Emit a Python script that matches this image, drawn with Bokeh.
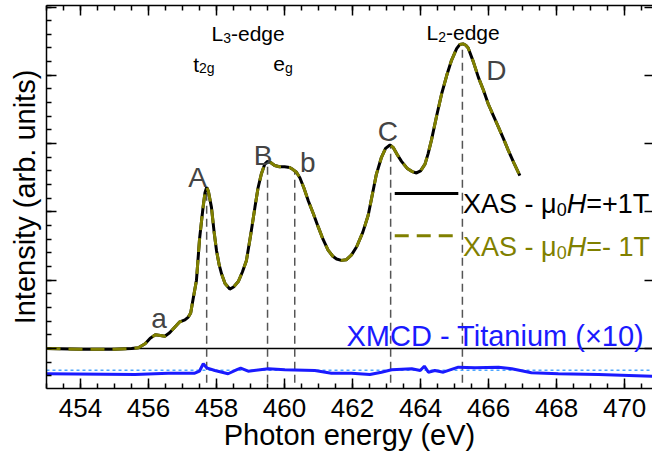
import numpy as np
from bokeh.plotting import figure
from bokeh.models import (LinearAxis, SingleIntervalTicker, Span, Label, Range1d, Title,
                          CustomJSTickFormatter)
from bokeh.embed import file_html
from bokeh.resources import INLINE

# ---------------- data ----------------
energy_xas = [453.0, 454.0, 455.0, 455.5, 455.7, 455.9, 456.05, 456.2, 456.35, 456.48,
              456.62, 456.77, 456.92, 457.07, 457.17, 457.24, 457.31, 457.41, 457.5, 457.6,
              457.66, 457.71, 457.76, 457.85, 457.93, 458.0, 458.08, 458.15, 458.25, 458.39,
              458.5, 458.64, 458.76, 458.88, 459.0, 459.13, 459.22, 459.32, 459.42, 459.5,
              459.6, 459.71, 459.85, 460.0, 460.15, 460.25, 460.35, 460.45, 460.57, 460.7,
              460.85, 460.99, 461.13, 461.28, 461.42, 461.53, 461.67, 461.82, 461.97, 462.12,
              462.3, 462.46, 462.56, 462.7, 462.85, 462.97, 463.1, 463.2, 463.3, 463.44,
              463.6, 463.75, 463.88, 464.0, 464.13, 464.22, 464.32, 464.47, 464.62, 464.77,
              464.91, 465.06, 465.15, 465.25, 465.33, 465.4, 465.55, 465.7, 465.85, 465.99,
              466.14, 466.29, 466.44, 466.58, 466.75, 466.92]
xas_plus = [0.0, -0.01, -0.01, 0.0, 0.01, 0.07, 0.15, 0.2, 0.19, 0.18,
            0.23, 0.31, 0.39, 0.42, 0.46, 0.52, 0.72, 1.0, 1.6, 2.05,
            2.28, 2.36, 2.3, 2.07, 1.7, 1.43, 1.22, 1.09, 0.95, 0.87,
            0.9, 0.98, 1.12, 1.29, 1.65, 2.07, 2.35, 2.56, 2.7, 2.74,
            2.72, 2.68, 2.66, 2.66, 2.65, 2.62, 2.58, 2.5, 2.35, 2.16,
            1.97, 1.78, 1.6, 1.44, 1.35, 1.31, 1.29, 1.3, 1.37, 1.49,
            1.7, 1.95, 2.2, 2.55, 2.8, 2.93, 2.98, 2.94, 2.85, 2.74,
            2.64, 2.59, 2.57, 2.6, 2.7, 2.85, 3.05, 3.4, 3.73, 4.0,
            4.22, 4.39, 4.45, 4.46, 4.44, 4.4, 4.2, 3.97, 3.78, 3.58,
            3.41, 3.24, 3.07, 2.9, 2.71, 2.53]
xas_minus = [0.0, -0.01, -0.01, 0.0, 0.01, 0.07, 0.15, 0.2, 0.19, 0.18,
             0.23, 0.31, 0.39, 0.42, 0.46, 0.52, 0.72, 1.0, 1.6, 2.05,
             2.28, 2.36, 2.3, 2.07, 1.7, 1.43, 1.22, 1.09, 0.95, 0.87,
             0.9, 0.98, 1.12, 1.29, 1.65, 2.07, 2.35, 2.56, 2.7, 2.74,
             2.72, 2.68, 2.66, 2.66, 2.65, 2.62, 2.58, 2.5, 2.35, 2.16,
             1.97, 1.78, 1.6, 1.44, 1.35, 1.31, 1.29, 1.3, 1.37, 1.49,
             1.7, 1.95, 2.2, 2.55, 2.8, 2.93, 2.98, 2.94, 2.85, 2.74,
             2.64, 2.59, 2.57, 2.6, 2.7, 2.85, 3.05, 3.4, 3.73, 4.0,
             4.22, 4.39, 4.45, 4.46, 4.44, 4.4, 4.2, 3.97, 3.78, 3.58,
             3.41, 3.24, 3.07, 2.9, 2.71, 2.53]

energy_xmcd = [453.0, 455.6, 456.58, 457.36, 457.5, 457.61, 457.71, 457.95, 458.34, 458.6,
               458.71, 458.93, 459.52, 460.01, 460.89, 461.38, 461.97, 462.51, 462.85, 463.15,
               463.74, 463.99, 464.11, 464.23, 464.42, 464.67, 465.11, 465.6, 466.29, 466.68,
               467.26, 468.05, 469.23, 470.85]
xmcd = [-0.37, -0.381, -0.362, -0.362, -0.33, -0.224, -0.283, -0.322, -0.37, -0.31,
        -0.288, -0.332, -0.297, -0.312, -0.322, -0.362, -0.362, -0.381, -0.347, -0.312,
        -0.297, -0.322, -0.259, -0.347, -0.322, -0.347, -0.274, -0.283, -0.274, -0.297,
        -0.356, -0.37, -0.381, -0.406]
xmcd_zero = -0.32

peak_energies = [457.71, 459.50, 460.30, 463.12, 465.23]
peak_names = ["A", "B", "b", "C", "D", "a"]
peak_label_x = [457.44, 459.37, 460.68, 463.04, 466.23, 456.31]
peak_label_y = [2.50, 2.83, 2.72, 3.17, 4.07, 0.434]

x_tick_interval = 2
y_tick_interval = 1

# ---------------- styling ----------------
FONT = "Liberation Sans"
OLIVE = "#808000"
BLUE = "#1a1aff"
GRAY = "#444444"

W = {'X': 667, 'A': 667, 'S': 667, ' ': 278, '-': 333, 'μ': 576, '0': 556, 'H': 722,
     '=': 584, '+': 584, '1': 556, 'T': 611, 'L': 556, '3': 556, '2': 556, 'e': 556,
     'd': 556, 'g': 556, 't': 278}


def text_width(s, size):
    return sum(W.get(c, 556) for c in s) * size / 1000.0


p = figure(width=652, height=456, x_range=Range1d(453, 470.82), y_range=Range1d(-0.586, 5.022),
           x_axis_type=None, y_axis_type=None, output_backend="svg", toolbar_location=None,
           min_border_left=45, min_border_right=0, min_border_top=5, min_border_bottom=68)
p.outline_line_color = None
p.background_fill_color = "white"
p.border_fill_color = "white"

blank = CustomJSTickFormatter(code="return ''")


def make_axis(ticker, labels=True, tick_in=10, minor_in=5):
    ax = LinearAxis(ticker=ticker, major_tick_in=tick_in, major_tick_out=0,
                    minor_tick_in=minor_in, minor_tick_out=0, axis_line_width=1.5,
                    major_tick_line_width=1.5, minor_tick_line_width=1.5,
                    axis_line_color="black")
    if labels:
        ax.major_label_text_font = FONT
        ax.major_label_text_font_size = "26px"
        ax.major_label_text_color = "black"
        ax.major_label_standoff = 10
    else:
        ax.formatter = blank
        ax.major_label_standoff = 0
        ax.major_label_text_font_size = "1px"
    return ax


ax_b = make_axis(SingleIntervalTicker(interval=x_tick_interval, num_minor_ticks=4))
ax_b.axis_label = "Photon energy (eV)"
ax_b.axis_label_text_font = FONT
ax_b.axis_label_text_font_size = "29px"
ax_b.axis_label_text_font_style = "normal"
ax_b.axis_label_text_color = "black"
ax_b.axis_label_standoff = -1
p.add_layout(ax_b, "below")
p.add_layout(make_axis(SingleIntervalTicker(interval=x_tick_interval, num_minor_ticks=4),
                       labels=False), "above")
p.add_layout(make_axis(SingleIntervalTicker(interval=y_tick_interval, num_minor_ticks=5),
                       labels=False), "left")
ax_r = make_axis(SingleIntervalTicker(interval=y_tick_interval, num_minor_ticks=0),
                 labels=False, tick_in=8, minor_in=0)
ax_r.axis_line_color = None
p.add_layout(ax_r, "right")

# y title
p.add_layout(Title(text="Intensity (arb. units)", align="center", offset=40,
                   text_font=FONT, text_font_size="29px", text_font_style="normal",
                   text_color="black", standoff=12), "left")

# zero lines
p.add_layout(Span(location=0, dimension="width", line_color="black", line_width=1.3,
                  level="underlay"))
p.add_layout(Span(location=xmcd_zero, dimension="width", line_color="#4da6ff", line_width=1.5,
                  line_dash="3 3", level="underlay"))

# vertical dashed guide lines
tops = np.interp(peak_energies, energy_xas, xas_plus)
p.segment(x0=peak_energies, y0=[-0.5] * len(peak_energies), x1=peak_energies, y1=tops,
          line_color="#555555", line_width=1.5, line_dash="8 5")

# curves
p.line(energy_xas, xas_plus, line_color="black", line_width=3)
p.line(energy_xas, xas_minus, line_color=OLIVE, line_width=3, line_dash="14 8")
p.line(energy_xmcd, xmcd, line_color=BLUE, line_width=3)

# peak letters
for name, lx, ly in zip(peak_names, peak_label_x, peak_label_y):
    p.add_layout(Label(x=lx, y=ly, text=name, text_font=FONT, text_font_size="28px",
                       text_color=GRAY, text_align="center", text_baseline="alphabetic"))


def add_pieces(x, y, pieces, color, x_offset=0):
    off = x_offset
    for txt, size, style, dy in pieces:
        p.add_layout(Label(x=x, y=y, x_offset=off, y_offset=dy, text=txt, text_font=FONT,
                           text_font_size=f"{size}px", text_font_style=style, text_color=color,
                           text_align="left", text_baseline="alphabetic"))
        off += text_width(txt, size)


# edge annotations
add_pieces(457.853, 4.608, [("L", 21, "normal", 0), ("3", 14, "normal", -4),
                            ("-edge", 21, "normal", 0)], "black")
add_pieces(464.176, 4.622, [("L", 21, "normal", 0), ("2", 14, "normal", -4),
                            ("-edge", 21, "normal", 0)], "black")
add_pieces(457.315, 4.165, [("t", 21, "normal", 0), ("2g", 14, "normal", -4)], "black")
add_pieces(459.668, 4.165, [("e", 21, "normal", 0), ("g", 14, "normal", -4)], "black")

# legend
LEG_X0, LEG_X1 = 463.24, 465.11
LEG_Y1, LEG_Y2 = 2.27, 1.65
LEG_TX = 465.25
p.line([LEG_X0, LEG_X1], [LEG_Y1, LEG_Y1], line_color="black", line_width=3)
p.line([LEG_X0, LEG_X1], [LEG_Y2, LEG_Y2], line_color=OLIVE, line_width=3, line_dash="14 8")
add_pieces(LEG_TX, (348 - 203.3) / 68.3, [("XAS - μ", 27, "normal", 0), ("0", 18, "normal", -6),
                                         ("H", 27, "italic", 0), ("=+1T", 27, "normal", 0)],
           "black")
add_pieces(LEG_TX, (348 - 246.3) / 68.3, [("XAS - μ", 27, "normal", 0), ("0", 18, "normal", -6),
                                         ("H", 27, "italic", 0), ("=- 1T", 27, "normal", 0)],
           OLIVE)

p.add_layout(Label(x=461.82, y=0.19, text="XMCD - Titanium (×10)", text_font=FONT,
                   text_font_size="29px", text_color=BLUE, text_align="left",
                   text_baseline="alphabetic"))

open("out.html", "w").write(file_html(p, INLINE))
